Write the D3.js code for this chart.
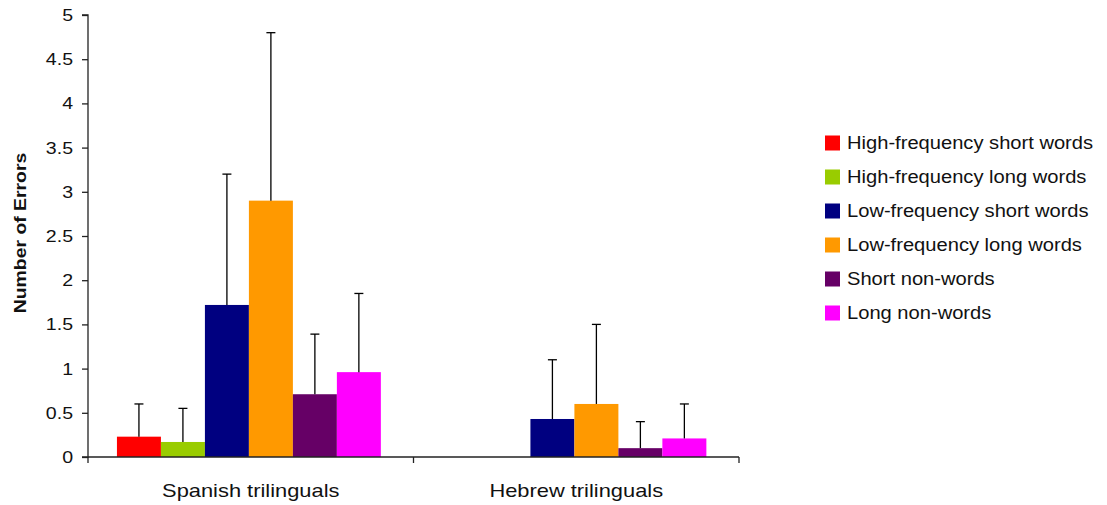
<!DOCTYPE html>
<html>
<head>
<meta charset="utf-8">
<script src="https://cdn.jsdelivr.net/npm/d3@7"></script>
<style>
  html, body { margin: 0; padding: 0; background: #fff; }
  svg { display: block; font-family: "Liberation Sans", Arial, sans-serif; }
</style>
</head>
<body>
<svg id="chart" width="1107" height="505"></svg>
<script>
// Groups along the x axis
const groups = ["Spanish trilinguals", "Hebrew trilinguals"];

// Word conditions (one bar per condition in each group)
const conditions = [
  "High-frequency short words",
  "High-frequency long words",
  "Low-frequency short words",
  "Low-frequency long words",
  "Short non-words",
  "Long non-words"
];

const colors = ["#FF0000", "#99CC00", "#000080", "#FF9900", "#660066", "#FF00FF"];

// Mean number of errors per condition
const spanishMeans = [0.23, 0.17, 1.72, 2.90, 0.71, 0.96];
const hebrewMeans  = [0.00, 0.00, 0.43, 0.60, 0.10, 0.21];

// Standard deviations (drawn as upward error bars)
const spanishSD = [0.37, 0.38, 1.48, 1.90, 0.68, 0.89];
const hebrewSD  = [0.00, 0.00, 0.67, 0.90, 0.30, 0.39];

const yTicks = [0, 0.5, 1, 1.5, 2, 2.5, 3, 3.5, 4, 4.5, 5];

const rows = [
  { group: groups[0], means: spanishMeans, sd: spanishSD },
  { group: groups[1], means: hebrewMeans,  sd: hebrewSD }
];

const svg = d3.select("#chart");
const plot = { left: 88, right: 739, top: 15, bottom: 457 };

const x0 = d3.scaleBand().domain(groups).range([plot.left, plot.right]).paddingInner(0).paddingOuter(0);
const x1 = d3.scaleBand().domain(conditions).range([0, x0.bandwidth()])
  .paddingInner(0).paddingOuter(0.7).align(0.47);
const y = d3.scaleLinear().domain([0, 5]).range([plot.bottom, plot.top]);
const color = d3.scaleOrdinal().domain(conditions).range(colors);

const ink = "#222";
const WIDEN = 1.15;

// The labels use a slightly wide face; stretch Arial-style glyphs along the baseline
function widen(sel, k = WIDEN) {
  sel.each(function () {
    const len = this.getComputedTextLength();
    d3.select(this).attr("textLength", len * k).attr("lengthAdjust", "spacingAndGlyphs");
  });
}

// Bars
const g = svg.append("g");
rows.forEach(r => {
  const gg = g.append("g").attr("transform", `translate(${x0(r.group)},0)`);
  const data = conditions.map((c, i) => ({ c, v: r.means[i], sd: r.sd[i] }));
  gg.selectAll("rect").data(data).join("rect")
    .attr("x", d => x1(d.c))
    .attr("width", x1.bandwidth())
    .attr("y", d => y(d.v))
    .attr("height", d => y(0) - y(d.v))
    .attr("fill", d => color(d.c));

  // Error bars (upper whisker only)
  const eb = gg.selectAll("g.err").data(data.filter(d => d.sd > 0)).join("g").attr("class", "err");
  eb.append("line")
    .attr("x1", d => x1(d.c) + x1.bandwidth() / 2)
    .attr("x2", d => x1(d.c) + x1.bandwidth() / 2)
    .attr("y1", d => y(d.v))
    .attr("y2", d => y(d.v + d.sd))
    .attr("stroke", "#000").attr("stroke-width", 1.3);
  eb.append("line")
    .attr("x1", d => x1(d.c) + x1.bandwidth() / 2 - 4.5)
    .attr("x2", d => x1(d.c) + x1.bandwidth() / 2 + 4.5)
    .attr("y1", d => y(d.v + d.sd))
    .attr("y2", d => y(d.v + d.sd))
    .attr("stroke", "#000").attr("stroke-width", 1.3);
});

// Y axis
const yAxis = svg.append("g")
  .attr("transform", `translate(${plot.left},0)`)
  .call(d3.axisLeft(y).tickValues(yTicks).tickSize(6).tickPadding(9).tickFormat(d3.format("~g")));
yAxis.select(".domain").attr("stroke", ink).attr("stroke-width", 1.3).attr("d", `M-6,${plot.top}H0V${plot.bottom}H-6`);
yAxis.selectAll(".tick line").attr("stroke", ink).attr("stroke-width", 1.3);
yAxis.selectAll(".tick text").attr("font-size", 17).attr("fill", "#111")
  .attr("font-family", "'Liberation Sans', Arial, sans-serif")
  .call(widen);

// X axis: boundary ticks between groups
const xAxisG = svg.append("g");
xAxisG.append("line")
  .attr("x1", plot.left).attr("x2", plot.right)
  .attr("y1", plot.bottom).attr("y2", plot.bottom)
  .attr("stroke", ink).attr("stroke-width", 1.3);
const bounds = groups.map(gr => x0(gr)).concat([x0(groups[groups.length - 1]) + x0.bandwidth()]);
xAxisG.selectAll("line.tk").data(bounds).join("line").attr("class", "tk")
  .attr("x1", d => d).attr("x2", d => d)
  .attr("y1", plot.bottom).attr("y2", plot.bottom + 6)
  .attr("stroke", ink).attr("stroke-width", 1.3);
xAxisG.selectAll("text").data(groups).join("text")
  .attr("x", d => x0(d) + x0.bandwidth() / 2)
  .attr("y", 497)
  .attr("text-anchor", "middle")
  .attr("font-size", 19)
  .attr("fill", "#111")
  .text(d => d)
  .call(widen);

// Y axis title
svg.append("text")
  .attr("transform", "translate(26,233) rotate(-90)")
  .attr("text-anchor", "middle")
  .attr("font-size", 17)
  .attr("font-weight", "bold")
  .attr("fill", "#111")
  .text("Number of Errors")
  .call(widen, 1.14);

// Legend
const legend = svg.append("g").attr("transform", "translate(825,143)");
const item = legend.selectAll("g").data(conditions).join("g")
  .attr("transform", (d, i) => `translate(0,${i * 34})`);
item.append("rect")
  .attr("x", 0).attr("y", -7.5).attr("width", 15).attr("height", 15)
  .attr("fill", d => color(d));
item.append("text")
  .attr("x", 22).attr("y", 6)
  .attr("font-size", 17.5)
  .attr("fill", "#111")
  .text(d => d)
  .call(widen);
</script>
</body>
</html>
